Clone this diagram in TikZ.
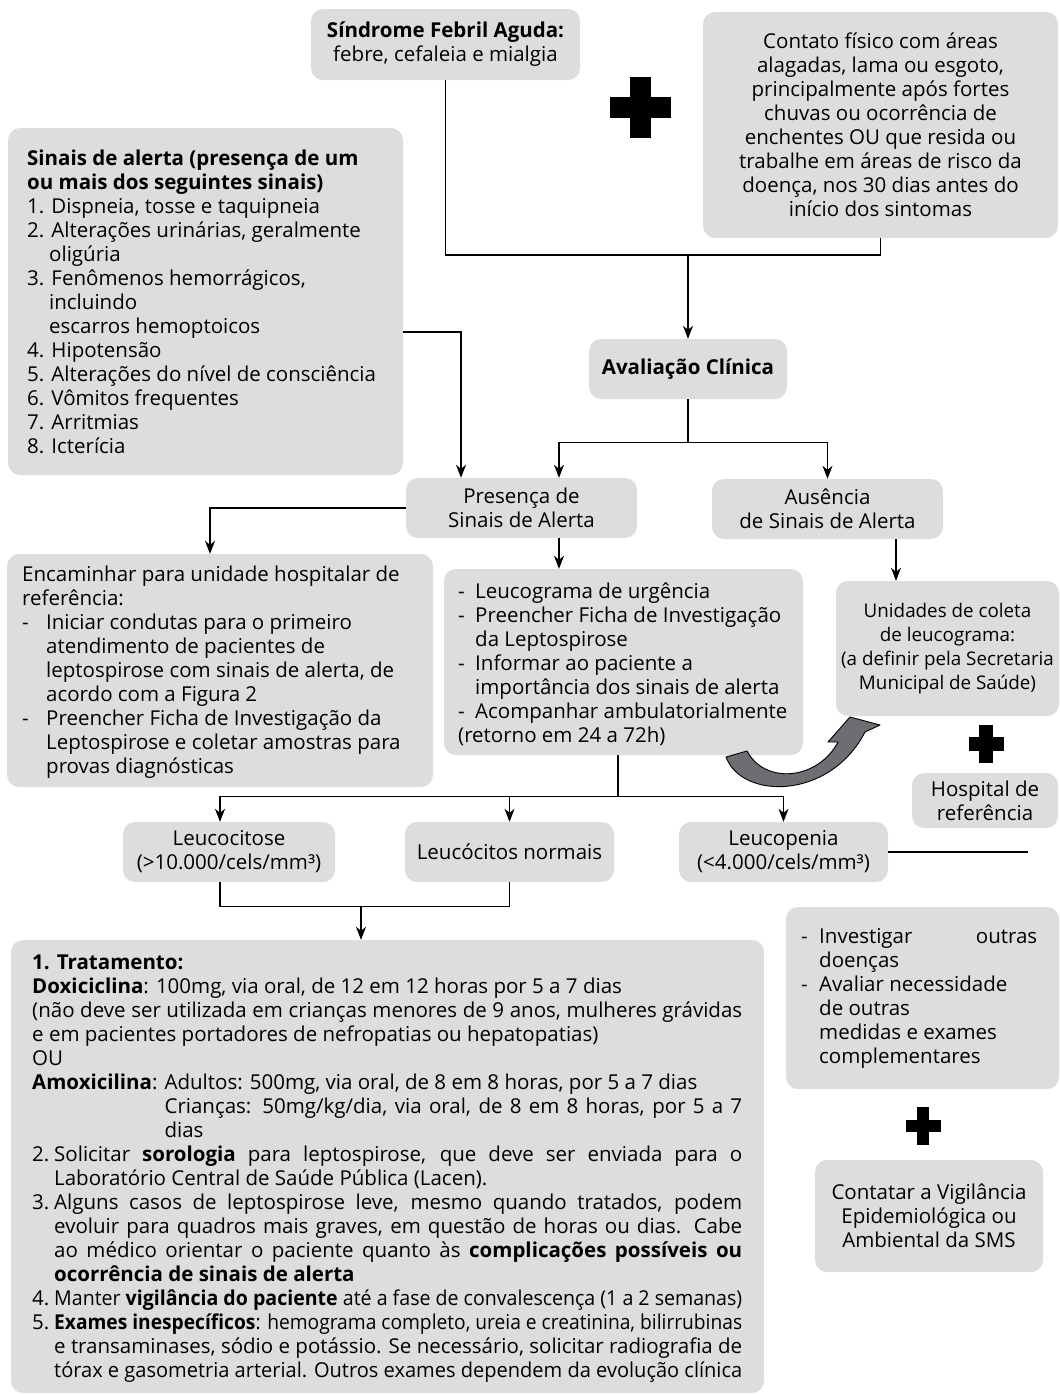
\documentclass[tikz,border=0pt]{standalone}
\usepackage{fontspec}
\setmainfont{Open Sans}
\usepackage{graphicx}
\usetikzlibrary{arrows.meta,calc}
\definecolor{boxgray}{HTML}{DCDDDE}
\definecolor{arrowgray}{HTML}{6D6E71}
\newcommand\fs{\fontsize{20.5pt}{24pt}\selectfont}
\newcommand\fss{\fontsize{18.8pt}{24pt}\selectfont}
\newsavebox\jlbox
\newsavebox\amoxbox
\newcommand\jl[2]{\sbox\jlbox{#2}\ifdim\wd\jlbox>#1\relax\resizebox{#1}{\height}{\usebox\jlbox}\else\makebox[#1][s]{#2}\fi}
\newcommand\fl[2]{\sbox\jlbox{#2}\ifdim\wd\jlbox>#1\relax\resizebox{#1}{\height}{\usebox\jlbox}\else\usebox\jlbox\fi}
\newcommand\plusmark[5]{\fill[black] (#1-#3,#2-#5) rectangle (#1+#3,#2+#5); \fill[black] (#1-#5,#2-#4) rectangle (#1+#5,#2+#4);}
\tikzset{
  gbox/.style={fill=boxgray, rounded corners=12pt, inner sep=0pt},
  ctext/.style={font=\fs, align=center},
  ltext/.style={font=\fs, align=left, inner sep=0pt, anchor=west},
  link/.style={line width=1.3pt, draw=black},
  arr/.style={link, -{Stealth[length=13pt,width=10pt,inset=4pt]}},
}
\begin{document}
\begin{tikzpicture}[x=1pt,y=-1pt]
\useasboundingbox (0,0) rectangle (1060,1395);

% ---------- boxes ----------
\node[gbox, ctext, minimum width=269pt, minimum height=71pt] (sindrome) at (445.5,44.5)
  {\textbf{Síndrome Febril Aguda:}\\febre, cefaleia e mialgia};

\node[gbox, ctext, minimum width=355pt, minimum height=226pt] (contato) at (880.5,125)
  {Contato físico com áreas\\alagadas, lama ou esgoto,\\principalmente após fortes\\chuvas ou ocorrência de\\enchentes OU que resida ou\\trabalhe em áreas de risco da\\doença, nos 30 dias antes do\\início dos sintomas};

\node[gbox, minimum width=395pt, minimum height=347pt] (sinais) at (205.5,301.5) {};
\node[ltext] (sinaisT) at (27,302)
  {\textbf{Sinais de alerta (presença de um}\\
   \textbf{ou mais dos seguintes sinais)}\\
   1. Dispneia, tosse e taquipneia\\
   2. Alterações urinárias, geralmente\\
   \hspace*{22pt}oligúria\\
   3. Fenômenos hemorrágicos,\\
   \hspace*{22pt}incluindo\\
   \hspace*{22pt}escarros hemoptoicos\\
   4. Hipotensão\\
   5. Alterações do nível de consciência\\
   6. Vômitos frequentes\\
   7. Arritmias\\
   8. Icterícia};

\node[gbox, ctext, minimum width=198pt, minimum height=60pt] (avaliacao) at (688,369)
  {\textbf{Avaliação Clínica}};

\node[gbox, ctext, minimum width=231pt, minimum height=60pt] (presenca) at (521.5,508)
  {Presença de\\Sinais de Alerta};
\node[gbox, ctext, minimum width=231pt, minimum height=60pt] (ausencia) at (827.5,509)
  {Ausência\\de Sinais de Alerta};

\node[gbox, minimum width=426pt, minimum height=233pt] (encaminhar) at (220,670.5) {};
\node[ltext] (encaminharT) at (22,672)
  {Encaminhar para unidade hospitalar de\\
   referência:\\
   \makebox[24pt][l]{-}Iniciar condutas para o primeiro\\
   \hspace*{24pt}atendimento de pacientes de\\
   \hspace*{24pt}leptospirose com sinais de alerta, de\\
   \hspace*{24pt}acordo com a Figura 2\\
   \makebox[24pt][l]{-}Preencher Ficha de Investigação da\\
   \hspace*{24pt}Leptospirose e coletar amostras para\\
   \hspace*{24pt}provas diagnósticas};

\node[gbox, minimum width=359pt, minimum height=186pt] (leucograma) at (623.5,662) {};
\node[ltext] (leucogramaT) at (458,664)
  {\makebox[17pt][l]{-}Leucograma de urgência\\
   \makebox[17pt][l]{-}Preencher Ficha de Investigação\\
   \hspace*{17pt}da Leptospirose\\
   \makebox[17pt][l]{-}Informar ao paciente a\\
   \hspace*{17pt}importância dos sinais de alerta\\
   \makebox[17pt][l]{-}Acompanhar ambulatorialmente\\
   (retorno em 24 a 72h)};

\node[gbox, align=center, font=\fss, minimum width=223pt, minimum height=135pt] (unidades) at (947.5,648.5)
  {Unidades de coleta\\de leucograma:\\(a definir pela Secretaria\\Municipal de Saúde)};

\node[gbox, ctext, minimum width=146pt, minimum height=55pt] (hospital) at (985,800.5)
  {Hospital de\\referência};

\node[gbox, ctext, minimum width=212pt, minimum height=60pt] (leucocitose) at (229,852)
  {Leucocitose\\(>10.000/cels/mm³)};
\node[gbox, ctext, minimum width=209pt, minimum height=60pt] (normais) at (509.5,852)
  {Leucócitos normais};
\node[gbox, ctext, minimum width=209pt, minimum height=60pt] (leucopenia) at (783.5,852)
  {Leucopenia\\(<4.000/cels/mm³)};

\node[gbox, minimum width=753pt, minimum height=453pt] (tratamento) at (387.5,1166.5) {};
\node[ltext] (tratamentoT) at (32,1169)
  {{\global\setbox\amoxbox\hbox{\textbf{Amoxicilina}: }}\textbf{1. Tratamento:}\\
   \textbf{Doxiciclina}: 100mg, via oral, de 12 em 12 horas por 5 a 7 dias\\
   \jl{710pt}{(não deve ser utilizada em crianças menores de 9 anos, mulheres grávidas}\\
   e em pacientes portadores de nefropatias ou hepatopatias)\\
   OU\\
   \textbf{Amoxicilina}: Adultos: 500mg, via oral, de 8 em 8 horas, por 5 a 7 dias\\
   \hspace*{\wd\amoxbox}\jl{\dimexpr710pt-\wd\amoxbox\relax}{Crianças: 50mg/kg/dia, via oral, de 8 em 8 horas, por 5 a 7}\\
   \hspace*{\wd\amoxbox}dias\\
   \makebox[22pt][l]{2.}\jl{688pt}{Solicitar \textbf{sorologia} para leptospirose, que deve ser enviada para o}\\
   \hspace*{22pt}Laboratório Central de Saúde Pública (Lacen).\\
   \makebox[22pt][l]{3.}\jl{688pt}{Alguns casos de leptospirose leve, mesmo quando tratados, podem}\\
   \hspace*{22pt}\jl{688pt}{evoluir para quadros mais graves, em questão de horas ou dias. Cabe}\\
   \hspace*{22pt}\jl{688pt}{ao médico orientar o paciente quanto às \textbf{complicações possíveis ou}}\\
   \hspace*{22pt}\textbf{ocorrência de sinais de alerta}\\
   \makebox[22pt][l]{4.}\jl{688pt}{Manter \textbf{vigilância do paciente} até a fase de convalescença (1 a 2 semanas)}\\
   \makebox[22pt][l]{5.}\jl{688pt}{\textbf{Exames inespecíficos}: hemograma completo, ureia e creatinina, bilirrubinas}\\
   \hspace*{22pt}\jl{688pt}{e transaminases, sódio e potássio. Se necessário, solicitar radiografia de}\\
   \hspace*{22pt}\fl{688pt}{tórax e gasometria arterial. Outros exames dependem da evolução clínica}};

\node[gbox, minimum width=273pt, minimum height=182pt] (investigar) at (922.5,998) {};
\node[ltext] (investigarT) at (801,998)
  {\makebox[18pt][l]{-}\makebox[218pt][s]{Investigar outras}\\
   \hspace*{18pt}doenças\\
   \makebox[18pt][l]{-}Avaliar necessidade\\
   \hspace*{18pt}de outras\\
   \hspace*{18pt}medidas e exames\\
   \hspace*{18pt}complementares};

\node[gbox, ctext, minimum width=228pt, minimum height=112pt] (contatar) at (929,1216)
  {Contatar a Vigilância\\Epidemiológica ou\\Ambiental da SMS};

% ---------- plus signs ----------
\plusmark{640}{107}{30.5}{30.5}{10.5}
\plusmark{986}{744}{17.5}{19}{7}
\plusmark{923}{1126}{17.5}{19}{6}

% ---------- connectors ----------
\coordinate (y255) at (0,255);
\draw[link] (sindrome.south) |- (contato.south |- y255) -- (contato.south);
\draw[arr] (avaliacao.north |- y255) -- (avaliacao.north);

\draw[link] (avaliacao.south) -- ++(0,43) coordinate (j2);
\draw[arr] (j2) -| ([xshift=37.5pt]presenca.north);
\draw[arr] (j2) -| (ausencia.north);

\draw[arr] ([yshift=-30.5pt]sinais.east) -| ([xshift=-60.5pt]presenca.north);
\draw[arr] (presenca.west) -| ([xshift=-10pt]encaminhar.north);
\draw[arr] ([xshift=37.5pt]presenca.south) -- ([xshift=37.5pt]presenca.south |- leucograma.north);
\draw[arr] ([xshift=68.5pt]ausencia.south) -- ([xshift=68.5pt]ausencia.south |- unidades.north);

\draw[link] ([xshift=-5.5pt]leucograma.south) -- ++(0,41) coordinate (j3);
\draw[arr] (j3) -| ([xshift=-9pt]leucocitose.north);
\draw[arr] (j3) -| (normais.north);
\draw[arr] (j3) -| (leucopenia.north);

\draw[link] ([xshift=-9pt]leucocitose.south) -- ++(0,24) coordinate (j4) -| (normais.south);
\draw[arr] ([xshift=-26.5pt]tratamento.north |- j4) -- ([xshift=-26.5pt]tratamento.north);

\coordinate (lpend) at (1028,852);
\draw[link] (leucopenia.east) -- (lpend);

% ---------- curved block arrow ----------
\filldraw[fill=arrowgray, draw=black, line width=0.9pt, line join=round]
  (726,757) .. controls (742,800) and (830,800) .. (865,732)
  -- (880,725) -- (850,717) -- (828,742) -- (838,742)
  .. controls (818,780) and (765,785) .. (747,751) -- cycle;
\end{tikzpicture}
\end{document}
